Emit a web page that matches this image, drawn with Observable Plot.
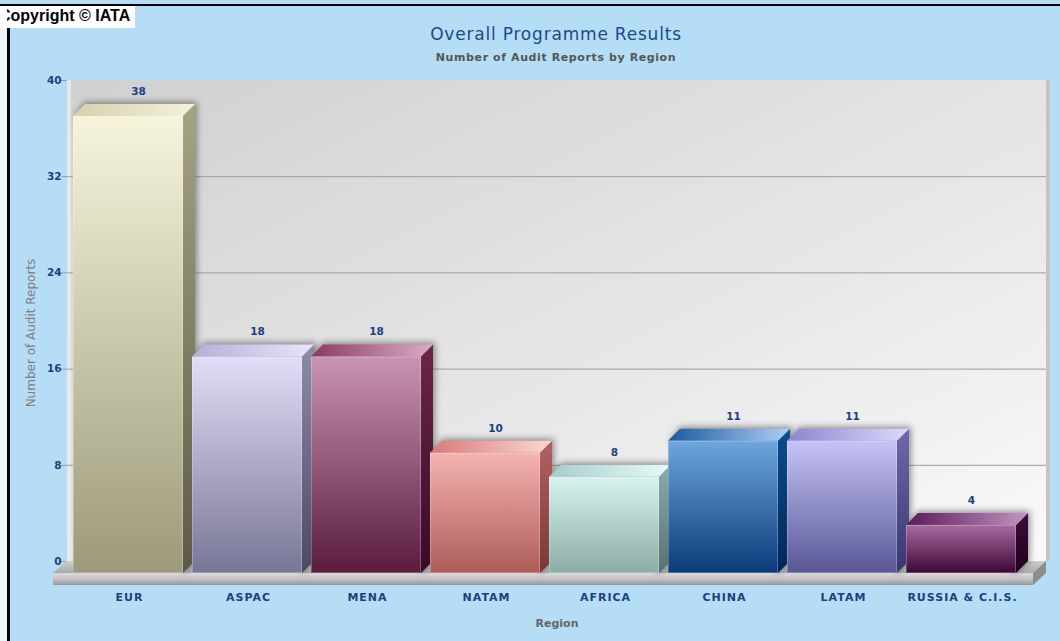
<!DOCTYPE html>
<html>
<head>
<meta charset="utf-8">
<script src="https://cdn.jsdelivr.net/npm/d3@7"></script>
<script src="https://cdn.jsdelivr.net/npm/@observablehq/plot@0.6"></script>
<style>
  body { margin: 0; background: #b5ddf5; }
  #wrap { position: relative; width: 1060px; height: 641px; background: #b5ddf5; overflow: hidden; font-family: "DejaVu Sans", Verdana, sans-serif; }
  #chart { position: absolute; left: 0; top: 0; }
  .ov { position: absolute; white-space: nowrap; }
</style>
</head>
<body>
<div id="wrap">
  <svg id="defs" width="0" height="0" style="position:absolute;left:0;top:0"></svg>
  <div id="chart"></div>
  <div class="ov" style="left:0;top:4px;width:1060px;height:2px;background:#000;"></div>
  <div class="ov" style="left:0;top:6px;width:7px;height:635px;background:#eef6fb;"></div>
  <div class="ov" style="left:7px;top:6px;width:3px;height:635px;background:#000;"></div>
  <div class="ov" style="left:0px;top:6px;width:135px;height:22px;background:#fff;overflow:hidden;">
    <div style="position:absolute;left:-1px;top:1px;font-family:'Liberation Sans',Arial,sans-serif;font-weight:bold;font-size:16px;line-height:18px;color:#000;">Copyright © IATA</div>
    <div style="position:absolute;left:0;top:0;width:7px;height:22px;background:#fff;"></div>
  </div>
  <div class="ov" id="title" style="left:0;width:1112px;top:24px;text-align:center;font-size:17px;letter-spacing:0.8px;color:#1a4a8a;">Overall Programme Results</div>
  <div class="ov" id="subtitle" style="left:0;width:1112px;top:51px;text-align:center;font-size:11px;letter-spacing:0.6px;font-weight:bold;color:#555;">Number of Audit Reports by Region</div>
</div>
<script>
// ---- data ----
const regions = ["EUR", "ASPAC", "MENA", "NATAM", "AFRICA", "CHINA", "LATAM", "RUSSIA & C.I.S."];
const reports = [38, 18, 18, 10, 8, 11, 11, 4];
const yTicks = [0, 8, 16, 24, 32, 40];
const gridTicks = [8, 16, 24, 32];

// ---- palette (front top/bottom, side top/bottom, top-face left/right) ----
const frontTop    = ["#f6f5dc", "#e0def8", "#c994b3", "#f5b4b0", "#d6f3ef", "#6ea6de", "#c6c4f7", "#a86ca0"];
const frontBottom = ["#9c9a7a", "#787696", "#5a1c3e", "#ae5c58", "#8cacA8", "#0a3a7a", "#585694", "#3c0636"];
const sideTop     = ["#a6a484", "#8e8cac", "#6c2648", "#b26262", "#8cacA8", "#0c4c8e", "#6c6aaa", "#3c0c3a"];
const sideBottom  = ["#5c5a44", "#4a4862", "#3a0a24", "#783836", "#567270", "#002858", "#38366e", "#20001c"];
const topLeft     = ["#d4d2ac", "#b2b0d8", "#8a3a62", "#d87a78", "#a6cecA", "#1a5aa0", "#8886d0", "#5a1a56"];
const topRight    = ["#f4f3dc", "#e8e6fb", "#dcacc8", "#fcd6d2", "#e8fbf9", "#aed0f4", "#dcdafb", "#c494c4"];

const data = regions.map((r, i) => ({region: r, value: reports[i], i}));

// ---- gradient defs ----
const defs = d3.select("#defs").append("defs");
function lin(id, stops, x2 = 0, y2 = 1) {
  const g = defs.append("linearGradient").attr("id", id)
    .attr("x1", 0).attr("y1", 0).attr("x2", x2).attr("y2", y2);
  stops.forEach(([o, c]) => g.append("stop").attr("offset", o).attr("stop-color", c));
}
regions.forEach((r, i) => {
  lin("front" + i, [[0, frontTop[i]], [1, frontBottom[i]]]);
  lin("side" + i, [[0, sideTop[i]], [1, sideBottom[i]]]);
  lin("top" + i, [[0, topLeft[i]], [1, topRight[i]]], 1, 0);
});
lin("wall", [[0, "#d0d0d0"], [0.55, "#e6e6e6"], [1, "#f9f9f9"]], 1, 1);
lin("platFront", [[0, "#dadada"], [0.45, "#c6c6c6"], [1, "#979797"]]);
lin("platTop", [[0, "#cfcfcf"], [1, "#a9a9a9"]]);
const blur = defs.append("filter").attr("id", "shadow").attr("x", "-20%").attr("y", "-20%").attr("width", "140%").attr("height", "140%");
blur.append("feGaussianBlur").attr("stdDeviation", 3);

const DX = 12, DY = 12;

// ---- 3D scene: back wall, grid, platform, bar tops & sides ----
function scene(index, scales, values, dimensions) {
  const {x, y} = scales;
  const {width, marginLeft, marginRight} = dimensions;
  const bw = typeof x.bandwidth === "function" ? x.bandwidth() : (x(regions[1]) - x(regions[0])) * (1 - 0.0756);
  const y0 = y(0), yMax = y(yTicks[yTicks.length - 1]);
  const wl = marginLeft + 3, wr = width - marginRight + 21;
  const g = d3.create("svg:g");
  // wall
  g.append("rect").attr("x", wl).attr("y", yMax - DY).attr("width", wr - wl).attr("height", y0 - yMax)
    .attr("fill", "url(#wall)");
  g.append("rect").attr("x", wl).attr("y", yMax - DY).attr("width", 4).attr("height", y0 - yMax)
    .attr("fill", "#ececec").attr("opacity", 0.8);
  g.append("rect").attr("x", wr).attr("y", yMax - DY).attr("width", 4).attr("height", y0 - yMax)
    .attr("fill", "#c4c4c4");
  // grid lines and ticks
  for (const t of gridTicks) {
    g.append("line").attr("x1", wl).attr("x2", wr).attr("y1", y(t) - DY + 0.5).attr("y2", y(t) - DY + 0.5)
      .attr("stroke", "#9e9e9e");
  }
  for (const t of yTicks) {
    g.append("line").attr("x1", marginLeft - 3).attr("x2", wl).attr("y1", y(t) - DY + 0.5).attr("y2", y(t) - DY + 0.5)
      .attr("stroke", "#9e9e9e");
  }
  // platform
  const pl = marginLeft - 11, pr = width - marginRight + 8, PD = 13;
  g.append("path").attr("d", `M${pl},${y0}L${pr},${y0}L${pr + PD},${y0 - DY}L${pl + PD},${y0 - DY}Z`).attr("fill", "url(#platTop)");
  g.append("rect").attr("x", pl).attr("y", y0).attr("width", pr - pl).attr("height", 12).attr("fill", "url(#platFront)");
  g.append("path").attr("d", `M${pr},${y0}L${pr + PD},${y0 - DY}L${pr + PD},${y0}L${pr},${y0 + 12}Z`).attr("fill", "#8e8e8e");
  // shadows
  data.forEach(d => {
    const x0 = x(d.region), x1 = x0 + bw, yt = y(d.value);
    g.append("path").attr("d", `M${x0 + 2},${yt}L${x0 + DX},${yt - DY - 2}L${x1 + DX + 2},${yt - DY - 2}L${x1 + DX + 2},${y0 - DY}L${x1},${y0}Z`)
      .attr("fill", "#000").attr("opacity", 0.4).attr("filter", "url(#shadow)");
  });
  // sides and tops
  data.forEach(d => {
    const x0 = x(d.region), x1 = x0 + bw, yt = y(d.value);
    g.append("path").attr("d", `M${x1},${yt}L${x1 + DX},${yt - DY}L${x1 + DX},${y0 - DY}L${x1},${y0}Z`).attr("fill", `url(#side${d.i})`);
    g.append("path").attr("d", `M${x0},${yt}L${x1},${yt}L${x1 + DX},${yt - DY}L${x0 + DX},${yt - DY}Z`).attr("fill", `url(#top${d.i})`);
  });
  return g.node();
}

const blue = "#1c3f82";
const chart = Plot.plot({
  width: 1060,
  height: 641,
  marginLeft: 64,
  marginRight: 35,
  marginTop: 92,
  marginBottom: 68,
  style: {background: "transparent", fontFamily: "'DejaVu Sans', Verdana, sans-serif"},
  x: {domain: regions, padding: 0.0756, axis: null},
  y: {domain: [0, 40], axis: null},
  color: {domain: regions, range: regions.map((r, i) => `url(#front${i})`)},
  marks: [
    scene,
    Plot.barY(data, {x: "region", y: "value", fill: "region"}),
    Plot.barY(data, {x: "region", y: "value", fill: "none", stroke: "#ffffff", strokeOpacity: 0.25, inset: 0.5}),
    Plot.text(data, {x: "region", y: "value", text: d => String(d.value), dx: 10, dy: -25, fill: blue, fontWeight: "bold", fontSize: 10.5}),
    Plot.text(yTicks, {y: d => d, text: d => String(d), frameAnchor: "left", textAnchor: "end", dx: -3, dy: -12, fill: blue, fontWeight: "bold", fontSize: 10.5}),
    Plot.text(regions, {x: d => d, text: d => d, frameAnchor: "bottom", dx: 1, dy: 27, fill: blue, fontWeight: "bold", fontSize: 11}),
    Plot.text(["Region"], {frameAnchor: "bottom", dx: 12, dy: 53, fill: "#666", fontWeight: "bold", fontSize: 11}),
    Plot.text(["Number of Audit Reports"], {frameAnchor: "left", textAnchor: "middle", dx: -33, rotate: -90, fill: "#808080", fontSize: 12})
  ]
});
// letter spacing for category and tick labels
const regionSet = new Set(regions);
const tickSet = new Set(yTicks.map(String));
d3.select(chart).selectAll("text").each(function () {
  const t = this.textContent;
  if (regionSet.has(t)) this.style.letterSpacing = "1px";
  else if (tickSet.has(t) && this.getAttribute("text-anchor") === "end") this.style.letterSpacing = "1px";
});
document.getElementById("chart").appendChild(chart);
</script>
</body>
</html>
